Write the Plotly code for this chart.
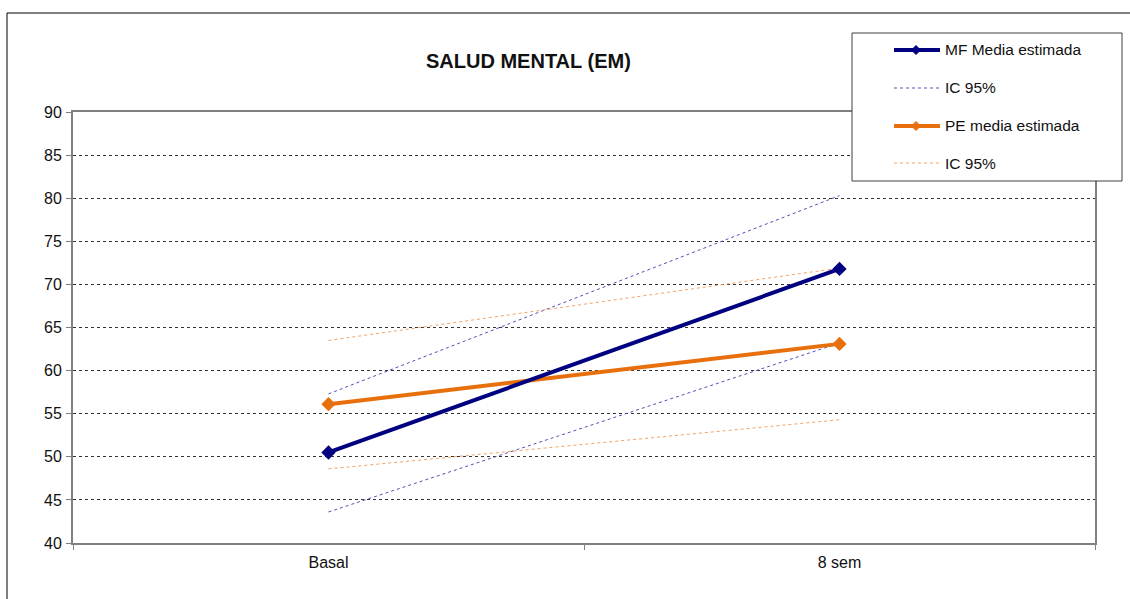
import plotly.graph_objects as go

# Time points and estimated means with 95% confidence bounds
categories = ["Basal", "8 sem"]
mf_media = [50.5, 71.8]
mf_ic_sup = [57.3, 80.3]
mf_ic_inf = [43.6, 63.2]
pe_media = [56.1, 63.1]
pe_ic_sup = [63.5, 71.9]
pe_ic_inf = [48.6, 54.3]

y_ticks = [40, 45, 50, 55, 60, 65, 70, 75, 80, 85, 90]

NAVY = "#000080"
ORANGE = "#E8700C"
MF_IC = "#5050B8"
PE_IC = "#F4A262"
FONT = "Liberation Sans, Arial, sans-serif"

W, H = 1130, 599
L, R, T, B = 73, 35, 112, 56
PW, PH = W - L - R, H - T - B


def px(xp):
    return (xp - L) / PW


def py(yp):
    return (H - B - yp) / PH


fig = go.Figure()

for lo, hi, col in [(mf_ic_inf, mf_ic_sup, MF_IC), (pe_ic_inf, pe_ic_sup, PE_IC)]:
    for series in (hi, lo):
        fig.add_trace(go.Scatter(
            x=categories, y=series, mode="lines",
            line=dict(color=col, width=1, dash="dot"),
            showlegend=False, hoverinfo="skip"))

fig.add_trace(go.Scatter(
    x=categories, y=pe_media, mode="lines+markers",
    line=dict(color=ORANGE, width=4),
    marker=dict(symbol="diamond", size=11, color=ORANGE),
    showlegend=False))
fig.add_trace(go.Scatter(
    x=categories, y=mf_media, mode="lines+markers",
    line=dict(color=NAVY, width=4),
    marker=dict(symbol="diamond", size=11, color=NAVY),
    showlegend=False))

shapes = []
annotations = []

# Outer chart frame
shapes.append(dict(type="rect", xref="paper", yref="paper",
                   x0=px(7), x1=px(1140), y0=py(610), y1=py(13),
                   line=dict(color="#000000", width=1), fillcolor="rgba(0,0,0,0)",
                   layer="below"))

# Legend box
shapes.append(dict(type="rect", xref="paper", yref="paper",
                   x0=px(852), x1=px(1122), y0=py(181), y1=py(33),
                   line=dict(color="#404040", width=1), fillcolor="white"))

legend_rows = [
    ("MF Media estimada", NAVY, 4, "solid", True, 50),
    ("IC 95%", MF_IC, 1, "dot", False, 88),
    ("PE media estimada", ORANGE, 4, "solid", True, 126),
    ("IC 95%", PE_IC, 1, "dot", False, 163),
]
for label, col, w, dash, mark, yy in legend_rows:
    shapes.append(dict(type="line", xref="paper", yref="paper",
                       x0=px(894), x1=px(940), y0=py(yy), y1=py(yy),
                       line=dict(color=col, width=w, dash=dash)))
    if mark:
        cx, r = 916, 4.5
        path = (f"M {px(cx - r)} {py(yy)} L {px(cx)} {py(yy - r)} "
                f"L {px(cx + r)} {py(yy)} L {px(cx)} {py(yy + r)} Z")
        shapes.append(dict(type="path", xref="paper", yref="paper", path=path,
                           line=dict(color=col, width=1), fillcolor=col))
    annotations.append(dict(text=label, xref="paper", yref="paper",
                            x=px(943), y=py(yy), xanchor="left", yanchor="middle",
                            showarrow=False,
                            font=dict(family=FONT, size=15.5, color="#111111")))

# Title
annotations.append(dict(text="<b>SALUD MENTAL (EM)</b>", xref="paper", yref="paper",
                        x=px(528), y=py(61), xanchor="center", yanchor="middle",
                        showarrow=False,
                        font=dict(family=FONT, size=20, color="#111111")))

fig.update_layout(
    width=W, height=H,
    margin=dict(l=L, r=R, t=T, b=B),
    paper_bgcolor="white", plot_bgcolor="white",
    showlegend=False,
    shapes=shapes, annotations=annotations,
    font=dict(family=FONT, size=15, color="#111111"),
)

fig.update_xaxes(
    type="category", categoryorder="array", categoryarray=categories,
    range=[-0.5, 1.5], tickson="boundaries",
    ticks="outside", ticklen=5, tickcolor="#808080",
    showline=True, linecolor="#808080", linewidth=2, mirror=True,
    showgrid=False, ticklabelstandoff=4,
    tickfont=dict(family=FONT, size=16, color="#111111"),
)
fig.update_yaxes(
    range=[40, 90], tickvals=y_ticks,
    ticks="outside", ticklen=5, tickcolor="#808080",
    showline=True, linecolor="#808080", linewidth=2, mirror=True,
    showgrid=True, gridcolor="#333333", gridwidth=1, griddash="dot",
    zeroline=False, ticklabelstandoff=1,
    tickfont=dict(family=FONT, size=16, color="#111111"),
)

fig.write_html("out.html")
